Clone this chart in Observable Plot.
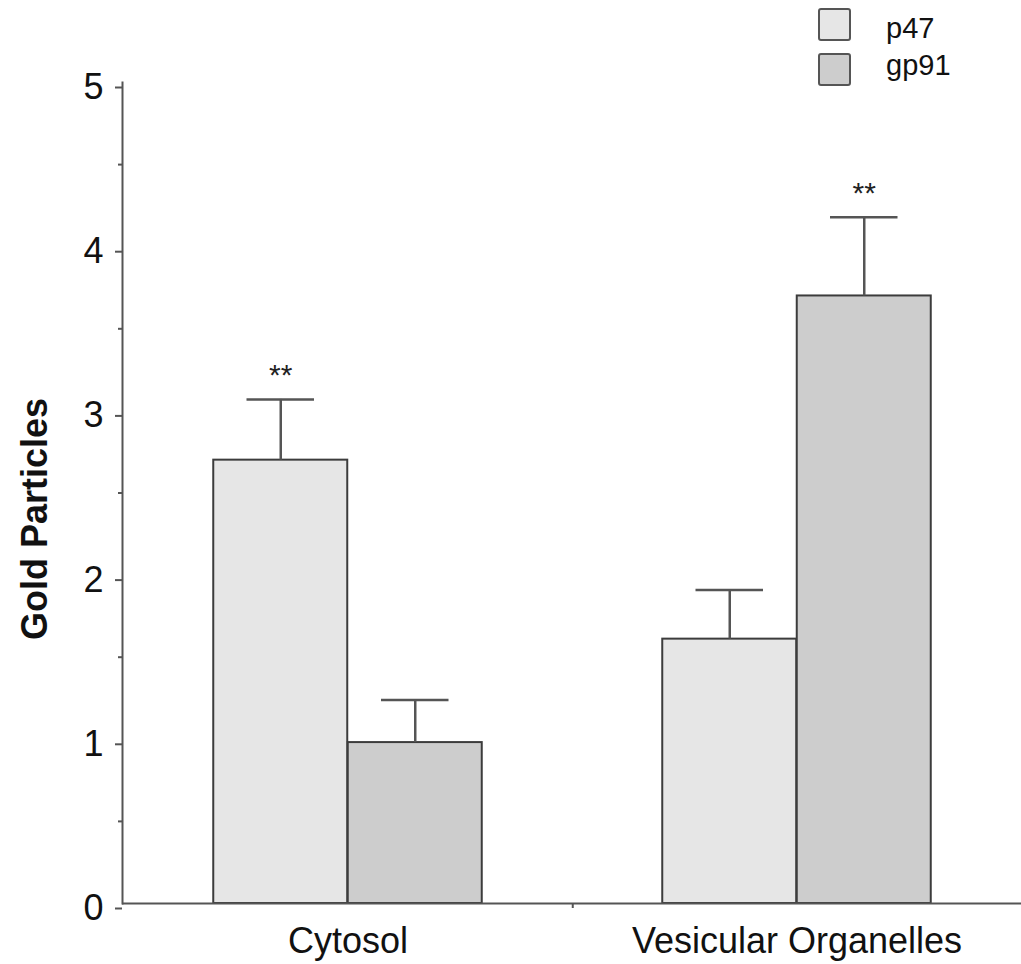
<!DOCTYPE html>
<html>
<head>
<meta charset="utf-8">
<script src="https://cdn.jsdelivr.net/npm/d3@7"></script>
<script src="https://cdn.jsdelivr.net/npm/@observablehq/plot@0.6"></script>
<style>
  html, body { margin: 0; padding: 0; background: #fff; }
  #wrap { position: relative; width: 1021px; height: 964px; font-family: "Liberation Sans", Arial, sans-serif; }
  .lg-box { position: absolute; width: 29px; height: 29px; border: 2px solid #555; border-radius: 3px; }
  .lg-txt { position: absolute; font-size: 29px; line-height: 28px; color: #111; }
</style>
</head>
<body>
<div id="wrap"></div>
<script>
// ---- data ----
const groups = ["Cytosol", "Vesicular Organelles"];
const series = ["p47", "gp91"];
const p47Values = [2.70, 1.61];
const gp91Values = [0.98, 3.70];
const p47SE = [0.37, 0.30];
const gp91SE = [0.26, 0.48];
const p47Sig = ["**", ""];
const gp91Sig = ["", "**"];
const yTicks = [0, 1, 2, 3, 4, 5];
const yMinorTicks = [0.5, 1.5, 2.5, 3.5, 4.5];
const colors = {p47: "#e6e6e6", gp91: "#cdcdcd"};

const rows = [];
groups.forEach((g, i) => {
  rows.push({group: g, series: "p47", value: p47Values[i], se: p47SE[i], sig: p47Sig[i]});
  rows.push({group: g, series: "gp91", value: gp91Values[i], se: gp91SE[i], sig: gp91Sig[i]});
});
const p47Rows = rows.filter(d => d.series === "p47");
const gp91Rows = rows.filter(d => d.series === "gp91");

// ---- layout constants (styles) ----
const W = 1021, H = 964, mL = 122, mR = 0, mT = 82, mB = 61;
const bw = (W - mL - mR) / groups.length;   // band width
const barW = 134.5;                           // width of each bar
const capHalf = 34;
const outer = bw / 2 - barW;                  // inset on outer side
const inner = bw / 2;                         // inset on inner side
const capNear = bw / 2 - barW / 2 - capHalf;  // cap inset, near side (outer)
const capFar = bw / 2 + barW / 2 - capHalf;   // cap inset, far side
const axisColor = "#555";
const barStroke = "#3c3c3c";

const plot = Plot.plot({
  width: W,
  height: H,
  marginLeft: mL,
  marginRight: mR,
  marginTop: mT,
  marginBottom: mB,
  style: {fontFamily: "'Liberation Sans', Arial, sans-serif", color: "#111", background: "transparent"},
  x: {type: "band", domain: groups, padding: 0, label: null},
  y: {domain: [0, 5], label: null},
  marks: [
    // bars
    Plot.barY(p47Rows, {x: "group", y: "value", fill: colors.p47, stroke: barStroke, strokeWidth: 2,
      insetLeft: outer, insetRight: inner}),
    Plot.barY(gp91Rows, {x: "group", y: "value", fill: colors.gp91, stroke: barStroke, strokeWidth: 2,
      insetLeft: inner, insetRight: outer}),
    // error bars (upper)
    Plot.ruleX(p47Rows, {x: "group", y1: "value", y2: d => d.value + d.se, dx: -barW / 2, stroke: axisColor, strokeWidth: 2.5}),
    Plot.ruleX(gp91Rows, {x: "group", y1: "value", y2: d => d.value + d.se, dx: barW / 2, stroke: axisColor, strokeWidth: 2.5}),
    Plot.tickY(p47Rows, {x: "group", y: d => d.value + d.se, insetLeft: capNear, insetRight: capFar, stroke: axisColor, strokeWidth: 2.5}),
    Plot.tickY(gp91Rows, {x: "group", y: d => d.value + d.se, insetLeft: capFar, insetRight: capNear, stroke: axisColor, strokeWidth: 2.5}),
    // significance
    Plot.text(p47Rows, {x: "group", y: d => d.value + d.se, text: "sig", dx: -barW / 2, dy: -24, fontSize: 30, fill: "#222"}),
    Plot.text(gp91Rows, {x: "group", y: d => d.value + d.se, text: "sig", dx: barW / 2, dy: -24, fontSize: 30, fill: "#222"}),
    // axes lines
    Plot.ruleY([0], {stroke: axisColor, strokeWidth: 2}),
    Plot.frame({anchor: "left", stroke: axisColor, strokeWidth: 2}),
    // tick at the boundary between groups
    Plot.ruleX(groups.slice(0, 1), {x: d => d, dx: bw / 2, y1: 0, y2: 0, insetBottom: -5, stroke: axisColor, strokeWidth: 2}),
    // y axis
    Plot.axisY({ticks: yTicks, tickSize: 7, tickPadding: 12, tickFormat: d => String(d), fontSize: 36, dy: 5, label: null, stroke: axisColor, strokeWidth: 2}),
    Plot.axisY({ticks: yMinorTicks, tickSize: 4, tickFormat: () => "", label: null, stroke: axisColor, strokeWidth: 2}),
    // x axis labels
    Plot.axisX({tickSize: 0, tickPadding: 24, fontSize: 36, label: null}),
    // y axis title
    Plot.text(["Gold Particles"], {text: d => d, frameAnchor: "left", textAnchor: "middle", rotate: -90, dx: -87, dy: 26,
      fontSize: 36, fontWeight: "bold", fill: "#111"})
  ]
});

const wrap = document.getElementById("wrap");
wrap.appendChild(plot);

// legend (HTML overlay, top right)
const legendItems = [
  {label: series[0], color: colors.p47, boxTop: 8, txtTop: 14},
  {label: series[1], color: colors.gp91, boxTop: 53, txtTop: 51}
];
legendItems.forEach(it => {
  const b = document.createElement("div");
  b.className = "lg-box";
  b.style.left = "818px";
  b.style.top = it.boxTop + "px";
  b.style.background = it.color;
  wrap.appendChild(b);
  const t = document.createElement("div");
  t.className = "lg-txt";
  t.style.left = "886px";
  t.style.top = it.txtTop + "px";
  t.textContent = it.label;
  wrap.appendChild(t);
});
plot.style.position = "absolute";
plot.style.left = "0";
plot.style.top = "0";
</script>
</body>
</html>
